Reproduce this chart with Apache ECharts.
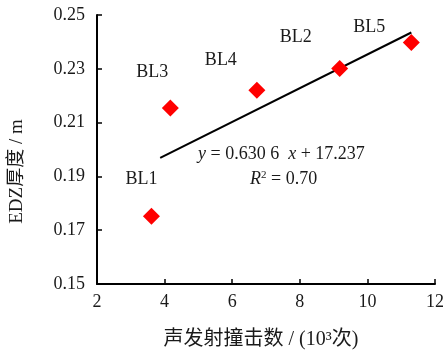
<!DOCTYPE html>
<html>
<head>
<meta charset="utf-8">
<script src="https://cdn.jsdelivr.net/npm/echarts@6/dist/echarts.min.js"></script>
<style>html,body{margin:0;padding:0;background:#fff}#c{width:447px;height:358px}</style>
</head>
<body>
<div id="c"></div>
<script>
// Data
const names = ['BL1', 'BL3', 'BL4', 'BL2', 'BL5'];
const hits = [3.61, 4.17, 6.73, 9.18, 11.30];        // 10^3 次
const edz = [0.1752, 0.2154, 0.2220, 0.2301, 0.2398]; // m
const trendX = [3.87, 11.30];
const trendY = [0.1969, 0.2435];
const xTicks = [2, 4, 6, 8, 10, 12];
const yTicks = [0.15, 0.17, 0.19, 0.21, 0.23, 0.25];

const FONT = "'Liberation Serif', 'Times New Roman', 'Noto Sans CJK SC', serif";
const TXT = '#1a1a1a';
const labelOffsets = [[-10, -37], [-18, -36], [-36, -30], [-44, -31], [-42, -15]];

const chart = echarts.init(document.getElementById('c'));
chart.setOption({
  animation: false,
  backgroundColor: '#fff',
  grid: { left: 96, right: 9, top: 15, bottom: 74 },
  xAxis: {
    type: 'value', min: xTicks[0], max: xTicks[xTicks.length - 1], interval: 2,
    name: '声发射撞击数 / (10³次)', nameLocation: 'middle', nameGap: 46,
    nameTextStyle: { fontFamily: FONT, fontSize: 20, color: TXT, padding: [0, 10, 0, 0] },
    axisLine: { lineStyle: { color: '#000', width: 2 } },
    axisTick: { inside: true, length: 5, lineStyle: { color: '#000', width: 1.5 } },
    axisLabel: { fontFamily: FONT, fontSize: 18, color: TXT, margin: 9 },
    splitLine: { show: false }
  },
  yAxis: {
    type: 'value', min: yTicks[0], max: yTicks[yTicks.length - 1], interval: 0.02,
    name: 'EDZ厚度 / m', nameLocation: 'middle', nameGap: 70,
    nameTextStyle: { fontFamily: FONT, fontSize: 19, color: TXT, padding: [0, 0, 0, -44] },
    axisLine: { lineStyle: { color: '#000', width: 2 } },
    axisTick: { inside: true, length: 5, lineStyle: { color: '#000', width: 1.5 } },
    axisLabel: { fontFamily: FONT, fontSize: 18, color: TXT, margin: 12,
      formatter: v => v.toFixed(2) },
    splitLine: { show: false }
  },
  series: [
    {
      type: 'line',
      data: trendX.map((x, i) => [x, trendY[i]]),
      symbol: 'none',
      lineStyle: { color: '#000', width: 2 },
      z: 3
    },
    {
      type: 'scatter',
      symbol: 'diamond',
      symbolSize: 17,
      itemStyle: { color: '#ff0000', opacity: 1 },
      data: hits.map((x, i) => ({
        value: [x, edz[i]],
        name: names[i],
        label: { offset: labelOffsets[i] }
      })),
      label: {
        show: true, position: 'inside', formatter: p => p.name,
        fontFamily: FONT, fontSize: 18, color: TXT
      },
      z: 4
    }
  ],
  graphic: [
    {
      type: 'text', left: 198, top: 145, z: 10,
      style: {
        text: '{i|y} = 0.630 6  {i|x} + 17.237',
        rich: { i: { fontStyle: 'italic', fontFamily: FONT, fontSize: 18, fill: TXT } },
        fontFamily: FONT, fontSize: 18, fill: TXT
      }
    },
    {
      type: 'text', left: 250, top: 170, z: 10,
      style: {
        text: '{i|R}{s|2} = 0.70',
        rich: {
          i: { fontStyle: 'italic', fontFamily: FONT, fontSize: 18, fill: TXT },
          s: { fontFamily: FONT, fontSize: 11, fill: TXT, verticalAlign: 'top', padding: [0, 0, 8, 0] }
        },
        fontFamily: FONT, fontSize: 18, fill: TXT
      }
    }
  ]
});
</script>
</body>
</html>
